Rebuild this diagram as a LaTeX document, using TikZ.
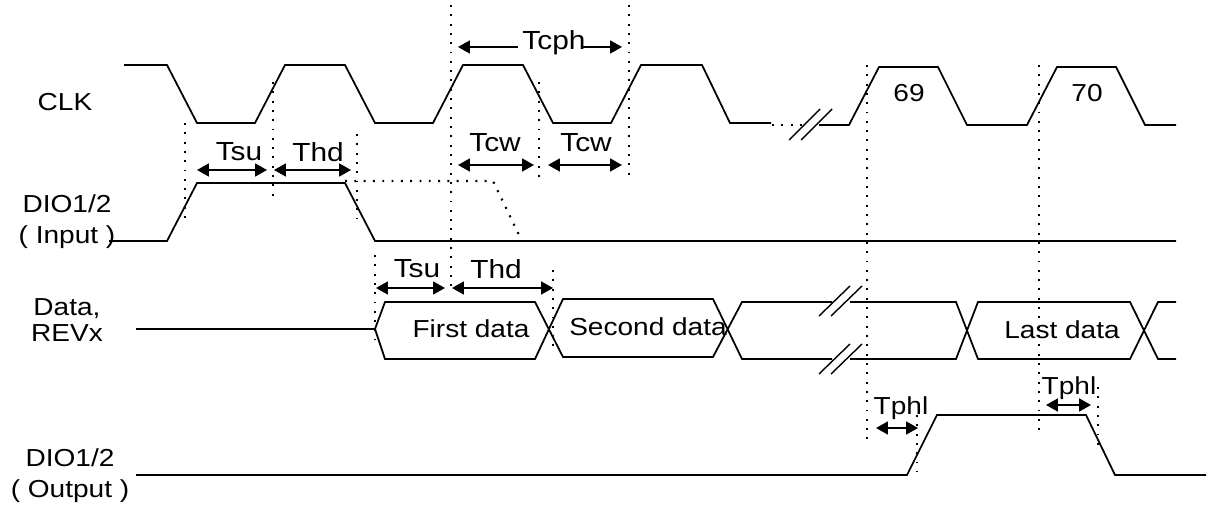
\documentclass[tikz,border=0pt]{standalone}
\usepackage{fontspec}
\setmainfont[FakeStretch=1.14]{Liberation Sans}
\usetikzlibrary{arrows.meta}
\tikzset{
    signal/.style={line width=1pt, line join=miter},
    breakmark/.style={line width=0.8pt},
    guide/.style={line width=1.25pt, dash pattern=on 1.1pt off 4.2pt},
    timespan/.style={line width=1pt, {Triangle[length=6.8pt,width=7.4pt]}-{Triangle[length=6.8pt,width=7.4pt]}},
    halfspan/.style={line width=1pt, -{Triangle[length=6.8pt,width=7.4pt]}},
    label/.style={font=\fontsize{14}{15}\selectfont, inner sep=0pt, align=center},
    timelabel/.style={font=\fontsize{14.9}{15}\selectfont, inner sep=0pt}
}
\begin{document}
\begin{tikzpicture}[x=0.02cm, y=-0.02cm]
    \useasboundingbox (0,0) rectangle (1230,506);
    % Signal names
    \node[label] (clkname) at (65,102) {CLK};
    \node[label] (dioinname) at (67,222) {DIO1/2\\[2.5pt]( Input )};
    \node[label] (dataname) at (67,320) {Data,\\REVx};
    \node[label] (diooutname) at (70,476) {DIO1/2\\[2.5pt]( Output )};
    % Clock
    \draw[signal] (124,65) -- (167,65) -- (197,123) -- (255,123) -- (285,65) -- (345,65) -- (375,123)
        -- (433,123) -- (463,65) -- (523,65) -- (553,123) -- (611,123) -- (641,65) -- (702,65)
        -- (730,123) -- (771,123);
    \draw[guide] (772,125) -- (802,125);
    \draw[signal] (819,125) -- (849,125) -- (879,67) -- (938,67) -- (967,125) -- (1027,125)
        -- (1057,67) -- (1116,67) -- (1145,125) -- (1176,125);
    \draw[breakmark] (789,140) -- (820,109);
    \draw[breakmark] (801,140) -- (832,109);
    \node[label] (count69) at (909,93) {69};
    \node[label] (count70) at (1087,93) {70};
    % Input
    \draw[signal] (109,241) -- (167,241) -- (197,183) -- (345,183) -- (375,241) -- (1176,241);
    \draw[guide] (345,181) -- (493,181) -- (520,237);
    % Data
    \draw[signal] (136,329) -- (375,329) -- (385,302) -- (535,302) -- (563,357) -- (713,357) -- (742,302) -- (832,302);
    \draw[signal] (375,329) -- (385,359) -- (535,359) -- (563,299) -- (713,299) -- (742,359) -- (832,359);
    \draw[signal] (850,302) -- (956,302) -- (978,359) -- (1130,359) -- (1158,302) -- (1176,302);
    \draw[signal] (850,359) -- (956,359) -- (978,302) -- (1130,302) -- (1158,359) -- (1176,359);
    \foreach \ybreak in {316,374} {
        \draw[breakmark] (819,\ybreak) -- (850,\ybreak-30);
        \draw[breakmark] (831,\ybreak) -- (862,\ybreak-30);
    }
    \node[label] (firstdata) at (471,329) {First data};
    \node[label] (seconddata) at (648,327) {Second data};
    \node[label] (lastdata) at (1062,330) {Last data};
    % Output
    \draw[signal] (136,475) -- (907,475) -- (937,415) -- (1086,415) -- (1115,475) -- (1206,475);
    % Dotted guides
    \draw[guide] (185,123) -- (185,224);
    \draw[guide] (273,82) -- (273,200);
    \draw[guide] (357,134) -- (357,218);
    \draw[guide] (375,255) -- (375,339);
    \draw[guide] (451,5) -- (451,293);
    \draw[guide] (539,82) -- (539,182);
    \draw[guide] (553,270) -- (553,352);
    \draw[guide] (629,5) -- (629,178);
    \draw[guide] (867,65) -- (867,442);
    \draw[guide] (1039,65) -- (1039,433);
    \draw[guide] (917,415) -- (917,472);
    \draw[guide] (1098,387) -- (1098,452);
    % Timing arrows
    \draw[timespan] (197,170) -- (267,170);
    \draw[timespan] (274,170) -- (351,170);
    \node[timelabel] (tsuin) at (239,152) {Tsu};
    \node[timelabel] (thdin) at (318,152) {Thd};
    \draw[halfspan] (518,47) -- (458,47);
    \draw[halfspan] (581,47) -- (622,47);
    \node[timelabel] (tcph) at (554,43) {Tcph};
    \draw[timespan] (458,165) -- (534,165);
    \draw[timespan] (548,165) -- (622,165);
    \node[timelabel] (tcwhigh) at (495,143) {Tcw};
    \node[timelabel] (tcwlow) at (586,143) {Tcw};
    \draw[timespan] (376,288) -- (445,288);
    \draw[timespan] (452,288) -- (553,288);
    \node[timelabel] (tsudata) at (417,269) {Tsu};
    \node[timelabel] (thddata) at (496,269) {Thd};
    \draw[timespan] (876,428) -- (918,428);
    \draw[timespan] (1046,405) -- (1091,405);
    \node[label] (tphlrise) at (901,408) {Tphl};
    \node[label] (tphlfall) at (1069,388) {Tphl};
\end{tikzpicture}
\end{document}
